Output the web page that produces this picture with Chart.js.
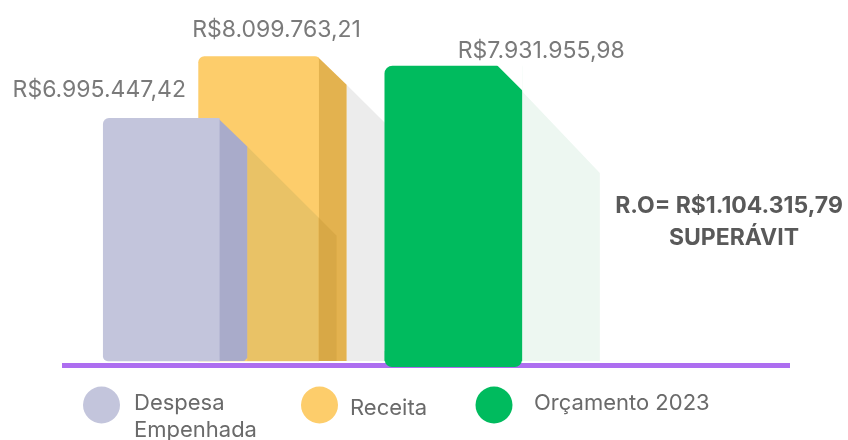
<!DOCTYPE html>
<html lang="pt-BR">
<head>
<meta charset="utf-8">
<title>Despesa x Receita x Orçamento 2023</title>
<script src="https://cdn.jsdelivr.net/npm/chart.js@4.4.1/dist/chart.umd.min.js"></script>
<style>
    html, body { margin: 0; padding: 0; background: #fff; }
    #wrap { width: 848px; height: 440px; }
</style>
</head>
<body>
<div id="wrap"><canvas id="chart" width="848" height="440"></canvas></div>
<script>
// dados
const seriesNames = ['Despesa Empenhada', 'Receita', 'Orçamento 2023'];
const seriesValues = [6995447.42, 8099763.21, 7931955.98];
const valueLabels = ['R$6.995.447,42', 'R$8.099.763,21', 'R$7.931.955,98'];
const legendLines = [['Despesa', 'Empenhada'], ['Receita'], ['Orçamento 2023']];
const resultLines = ['R.O= R$1.104.315,79', 'SUPERÁVIT'];
// categoria vazia = espaço entre Receita e Orçamento
const categories = ['Despesa Empenhada', 'Receita', '', 'Orçamento 2023'];
const axisMin = 2655000;
const axisMax = 8500000;

const colors = ['#c3c5dc', '#fdcd6b', '#00bb5e'];
const DEPTH = 28;   // lateral das barras "3D"
const CUT = 25;     // canto cortado da barra verde

function barBox(chart, i) {
    const meta = chart.getDatasetMeta(i);
    const el = meta.data[categories.indexOf(seriesNames[i])];
    return { l: el.x - el.width / 2, r: el.x + el.width / 2, t: el.y, b: el.base, x: el.x, w: el.width };
}

function poly(ctx, pts, color) {
    ctx.fillStyle = color;
    ctx.beginPath();
    ctx.moveTo(pts[0][0], pts[0][1]);
    for (let k = 1; k < pts.length; k++) ctx.lineTo(pts[k][0], pts[k][1]);
    ctx.closePath();
    ctx.fill();
}

const depthPlugin = {
    id: 'depth',
    beforeDatasetsDraw(chart) {
        const ctx = chart.ctx;
        const area = chart.chartArea;
        const rec = barBox(chart, 1);
        const orc = barBox(chart, 2);
        ctx.save();
        // linha roxa da base
        ctx.fillStyle = '#ad6ef0';
        ctx.fillRect(62, area.bottom + 2, 728, 5);
        // sombra cinza atrás da Receita
        const sx = rec.r + DEPTH, sy = rec.t + DEPTH;
        poly(ctx, [[sx, sy], [orc.l, sy + (orc.l - sx)], [orc.l, rec.b], [sx, rec.b]], '#ececec');
        // sombra verde clara
        poly(ctx, [[orc.r, orc.t + CUT], [orc.r + 78, orc.t + CUT + 82], [orc.r + 78, orc.b], [orc.r, orc.b]], '#edf7f1');
        ctx.restore();
    },
    beforeDatasetDraw(chart, args) {
        const ctx = chart.ctx;
        ctx.save();
        if (args.index === 1) {
            const rec = barBox(chart, 1);
            poly(ctx, [[rec.r - 1, rec.t], [rec.r + DEPTH, rec.t + DEPTH], [rec.r + DEPTH, rec.b], [rec.r - 1, rec.b]], '#e3b24f');
        }
        if (args.index === 0) {
            const des = barBox(chart, 0);
            const rec = barBox(chart, 1);
            // sombra da Despesa projetada sobre a Receita
            const px = des.r + DEPTH, py = des.t + DEPTH;
            const x2 = rec.r + DEPTH - 10;
            const shadow = [[px, py], [x2, py + (x2 - px)], [x2, rec.b], [px, rec.b]];
            ctx.save();
            ctx.beginPath();
            ctx.rect(rec.l, rec.t, rec.r - rec.l, rec.b - rec.t);
            ctx.clip();
            poly(ctx, shadow, '#e9c266');
            ctx.restore();
            ctx.save();
            ctx.beginPath();
            ctx.rect(rec.r, rec.t, DEPTH, rec.b - rec.t);
            ctx.clip();
            poly(ctx, shadow, '#d8a846');
            ctx.restore();
            // lateral da Despesa
            poly(ctx, [[des.r - 1, des.t], [des.r + DEPTH, des.t + DEPTH], [des.r + DEPTH, des.b - 3], [des.r + DEPTH - 3, des.b], [des.r - 1, des.b]], '#a9abca');
        }
        ctx.restore();
    },
    afterDatasetDraw(chart, args) {
        if (args.index !== 2) return;
        const ctx = chart.ctx;
        const orc = barBox(chart, 2);
        ctx.save();
        poly(ctx, [[orc.r - CUT, orc.t - 1], [orc.r + 1, orc.t - 1], [orc.r + 1, orc.t + CUT]], '#ffffff');
        ctx.fillStyle = colors[2];
        ctx.beginPath();
        ctx.roundRect(orc.l, orc.b - 10, orc.w, 16, [0, 0, 7, 7]);
        ctx.fill();
        ctx.restore();
    },
    afterDraw(chart) {
        const ctx = chart.ctx;
        ctx.save();
        // rótulos de valor
        const dx = [-62, 18, 88];
        const gap = [21, 20, 8];
        ctx.font = '400 23px Inter';
        ctx.fillStyle = '#7a7a7a';
        ctx.textAlign = 'center';
        ctx.textBaseline = 'alphabetic';
        valueLabels.forEach((txt, i) => {
            const b = barBox(chart, i);
            ctx.fillText(txt, b.x + dx[i], b.t - gap[i]);
        });
        // resultado orçamentário
        ctx.font = '700 23px Inter';
        ctx.fillStyle = '#595959';
        ctx.fillText(resultLines[0], 729, 213);
        ctx.fillText(resultLines[1], 734, 245);
        // legenda
        const lx = [101.5, 319.5, 494];
        const tx = [134, 350, 534];
        const ty = [410, 415, 410];
        ctx.font = '400 22px Inter';
        ctx.textAlign = 'left';
        legendLines.forEach((lines, i) => {
            ctx.fillStyle = colors[i];
            ctx.beginPath();
            ctx.arc(lx[i], 405, 18.5, 0, Math.PI * 2);
            ctx.fill();
            ctx.fillStyle = '#6a6a6a';
            lines.forEach((line, j) => ctx.fillText(line, tx[i], ty[i] + j * 27));
        });
        ctx.restore();
    }
};

new Chart(document.getElementById('chart').getContext('2d'), {
    type: 'bar',
    data: {
        labels: categories,
        datasets: seriesNames.map((name, i) => ({
            label: name,
            data: categories.map(c => c === name ? seriesValues[i] : null),
            backgroundColor: colors[i],
            base: axisMin,
            clip: false,
            grouped: false,
            borderSkipped: false,
            barThickness: [116, 120, 137][i],
            borderRadius: [
                { topLeft: 6, topRight: 0, bottomLeft: 5, bottomRight: 0 },
                { topLeft: 6, topRight: 4, bottomLeft: 0, bottomRight: 0 },
                { topLeft: 8, topRight: 0, bottomLeft: 0, bottomRight: 0 }
            ][i]
        }))
    },
    options: {
        responsive: false,
        animation: false,
        events: [],
        layout: { padding: { left: 112.6, right: 346, top: 34.3, bottom: 79 } },
        plugins: {
            legend: { display: false },
            tooltip: { enabled: false }
        },
        scales: {
            x: { display: false },
            y: { display: false, min: axisMin, max: axisMax }
        }
    },
    plugins: [depthPlugin]
});
</script>
</body>
</html>
